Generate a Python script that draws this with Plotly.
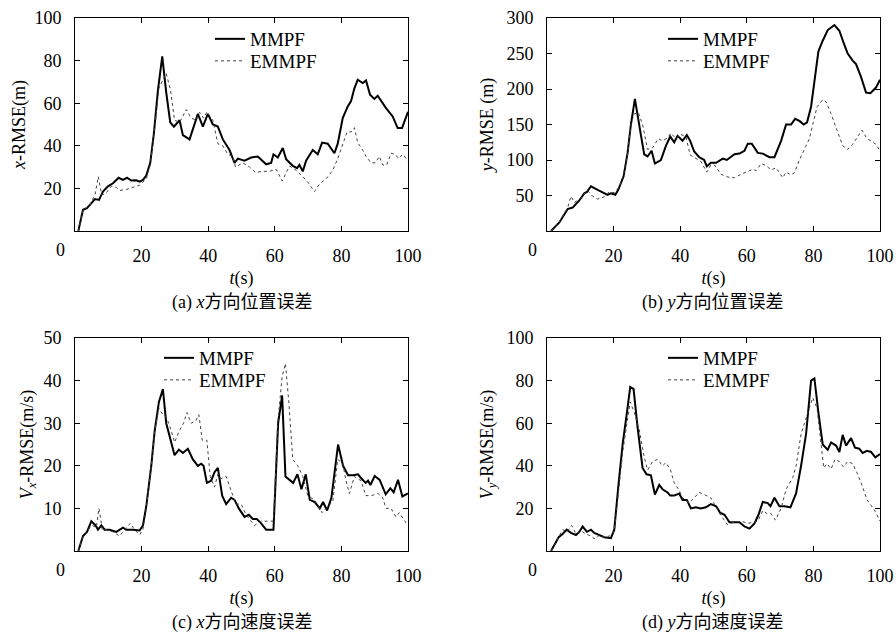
import plotly.graph_objects as go

# ---------------- data ----------------
# (a) x-RMSE (m)
ta_m = [1, 2.4, 3.6, 4.9, 6, 7.2, 8.4, 9.9, 11.4, 13.1, 14.4, 15.6, 16.9, 18.4, 19.4, 20.4, 21.4, 22.6, 23.7, 24.9,
        26.2, 27.4, 28.6, 29.7, 31.4, 32.4, 34.4, 36.9, 38.4, 39.9, 41.4, 42.9, 44.4, 46.4, 47.9, 48.9, 50.9, 52.9,
        54.9, 57.4, 58.9, 59.6, 60.9, 62.4, 63.4, 65.4, 66.7, 67.4, 68.4, 69.4, 71.4, 72.9, 74.2, 75.9, 77.9, 78.9,
        80.4, 81.9, 82.9, 83.9, 84.9, 86.4, 87.4, 88.6, 89.9, 90.9, 91.9, 93.4, 95.4, 96.9, 98.2, 100]
ya_m = [0, 10, 10.7, 13, 15, 14.6, 18.5, 21, 22.4, 25, 24, 25, 23.7, 23.8, 23.2, 24, 26, 32, 46, 66,
        82, 65, 51, 49, 52, 45, 43, 55, 49, 55, 50, 49, 43, 38, 32, 34, 33, 34.5,
        35, 31.3, 32, 36, 34.5, 39, 33.7, 30.6, 29.5, 31, 28, 33, 38, 36, 41.5, 41, 36.5, 41,
        53, 58.5, 61, 67, 71, 69.5, 70.7, 64, 62, 63.5, 61, 57.7, 53.8, 48.3, 48.3, 56]
ta_e = [1, 2.4, 4.4, 6, 7, 8, 9.2, 10.9, 12.4, 13.4, 15.4, 17.4, 19.4, 21.4, 22.6, 23.9, 25.2, 26.4, 27.4, 28.7,
        29.9, 31.4, 33.4, 34.9, 36.4, 37.4, 38.6, 39.6, 41.4, 42.9, 44.4, 45.9, 47.4, 48.2, 50.4, 52.4, 54.2, 56.4,
        58.4, 60.4, 62.2, 64.4, 66.4, 68.4, 69.9, 71.9, 73.4, 75.4, 77.4, 78.9, 80.4, 81.7, 82.9, 83.9, 84.9, 86.4,
        87.4, 88.9, 90.2, 91.4, 92.4, 93.6, 94.9, 96.2, 97.2, 98.4, 100]
ya_e = [0, 10, 12, 17, 25.5, 17, 17.5, 21, 20.5, 19, 19.5, 20.5, 21.5, 24.5, 31, 48, 67, 71, 74, 66,
        52, 51, 57, 53, 52, 55.8, 53, 55.8, 52, 41, 40, 36, 35, 30, 32, 30, 27.5, 28,
        28, 29, 23.5, 30.5, 28.5, 25.5, 23, 18.5, 22, 24.5, 28.5, 34, 41, 46.5, 46.5, 48.5, 41.5, 38,
        35, 32, 32, 35, 31, 31, 36.5, 36, 34, 36, 33]

# (b) y-RMSE (m)
tb_m = [1.2, 3.7, 6.2, 7.7, 9.7, 11.2, 12, 13.2, 15.2, 17.2, 18.2, 19.2, 20.5, 21.4, 22.2, 23, 24.2, 25.2, 26.4,
        27.4, 28.2, 29.2, 30.2, 31.4, 32.4, 34.2, 35.7, 37, 38.2, 39.2, 40.7, 42, 43, 44.2, 45.7, 47.2, 48, 49.2,
        50.8, 52.8, 54, 56.3, 57.8, 59.3, 60.3, 61.5, 63.3, 64.8, 66.8, 68.3, 70.3, 71.8, 73.3, 74.5, 75.8, 77.1,
        78.1, 79.3, 80.3, 81.5, 82.8, 84.3, 86.3, 87.8, 89.3, 90.3, 91.8, 92.8, 94.3, 95.8, 97.1, 98.8, 100]
yb_m = [0, 12, 31, 33, 43, 53, 55, 63, 58, 53, 51, 53, 51, 58, 68, 77, 110, 150, 186,
        155, 135, 108, 105, 113, 95, 100, 120, 133, 125, 134, 127, 135, 127, 112, 104, 100, 91, 96,
        96, 102, 100, 108, 109, 113, 123, 123, 110, 109, 104, 104, 127, 150, 150, 158, 155, 150,
        153, 175, 210, 253, 268, 283, 290, 282, 262, 250, 240, 235, 217, 195, 194, 202, 213]
tb_e = [1.2, 3.7, 6.2, 7.2, 8.2, 10.2, 12.2, 13.7, 15.2, 17.2, 18.7, 20.2, 21.7, 23, 24.2, 25.2, 26.2, 27.4, 28.7,
        30.2, 31.7, 33.4, 34.7, 36.2, 37.2, 38.7, 40.2, 41.7, 43, 44.7, 46.2, 48, 49.2, 50.3, 52.2, 54.3, 56.3,
        58.3, 60.3, 61.8, 62.8, 64.3, 65.8, 67.3, 68.8, 70.8, 71.8, 73.3, 74.3, 75.8, 77.3, 78.8, 79.8, 81.1, 82.8,
        83.8, 85.3, 86.8, 88.8, 90.3, 91.8, 93.3, 94.6, 96.1, 97.3, 98.8, 100]
yb_e = [0, 13, 33, 49, 40, 47, 57, 49, 45, 48, 55, 54, 62, 80, 110, 150, 165, 167, 150,
        115, 117, 130, 127, 131, 138, 130, 136, 133, 107, 102, 98, 83, 93, 93, 80, 76, 75,
        80, 84, 87, 85, 95, 92, 86, 89, 75, 83, 79, 82, 100, 115, 130, 150, 175, 185,
        182, 165, 145, 120, 115, 122, 133, 142, 130, 127, 122, 113]

# (c) Vx-RMSE (m/s)
tc_m = [1, 2.4, 3.6, 4.9, 6.2, 6.9, 7.9, 8.9, 10.4, 12.4, 14.4, 15.4, 17.4, 19.4, 20.4, 21.4, 22.9, 23.9, 25.2,
        26.4, 27.4, 28.4, 29.9, 31.2, 32.4, 33.9, 35.4, 36.9, 37.9, 38.6, 39.6, 40.9, 41.9, 42.9, 44.2, 45.4,
        46.9, 47.9, 49.2, 50.9, 52.2, 53.4, 54.6, 55.9, 57.4, 59.6, 61, 62.2, 63.2, 65.5, 66.8, 68, 69.3, 70.5,
        72, 73.5, 74.5, 75.7, 77, 79, 80.5, 82, 83.5, 85, 86, 87.3, 88, 88.7, 90, 91.5, 93.3, 94.7, 95.7, 97,
        98.3, 100]
yc_m = [0, 3.5, 4.5, 7, 6, 5, 6, 5, 5, 4.5, 5.5, 5, 5, 4.8, 6, 10.5, 20, 28, 35,
        38, 30, 27, 22.5, 23.8, 23, 24, 21.5, 20, 20.5, 20, 16, 16.5, 18.5, 19.5, 13, 11,
        12.5, 12, 10, 8, 8.5, 7.5, 7.5, 6.5, 5, 5, 30, 36.5, 17.5, 16, 18, 14.5, 18, 12,
        11.5, 10, 11.5, 9.5, 12.5, 25, 20, 17.8, 17.8, 18, 17, 16, 16.5, 15.5, 17.6, 16.7, 13.3, 14.7, 13.8, 16.7,
        12.8, 13.5]
tc_e = [1, 2.4, 3.9, 5.2, 6.4, 7.2, 8.2, 9.4, 11.4, 13.4, 14.9, 16.6, 17.9, 19.4, 20.4, 21.4, 22.9, 23.9, 25.2,
        26.4, 27.4, 28.6, 29.9, 31.2, 32.6, 33.6, 34.9, 36.2, 37.2, 38.2, 39.6, 40.6, 41.9, 42.9, 43.9, 45.4,
        47.4, 48.4, 49.9, 51.4, 53.9, 55.9, 58.4, 59.6, 60.9, 62.2, 63.2, 64.2, 65.4, 66.9, 68.4, 69.9, 71.9,
        74.2, 75.9, 77.4, 78.9, 80.4, 81.4, 82.4, 83.9, 85.9, 87.3, 89, 91, 92.4, 93.4, 94.9, 96.4, 97.4, 98.6, 100]
yc_e = [0, 3.5, 5, 6, 5.5, 10, 5, 5, 4.5, 3.5, 5, 6.5, 5, 3.8, 5, 10, 20, 28, 33.5,
        32, 31.5, 29, 25.5, 28, 30, 32.5, 30, 30.5, 32, 26, 26, 17.5, 15, 18, 17, 17.5,
        13, 11, 11, 8.5, 6, 7, 7, 7, 30, 41, 44, 35, 21.5, 20, 17.5, 13, 12,
        9, 10.5, 11.5, 21.5, 20.5, 16.5, 13.5, 17.5, 16.5, 13, 13, 13.5, 12.5, 10, 10, 8, 9, 7.5, 6]

# (d) Vy-RMSE (m/s)
td_m = [1.2, 2.2, 3.5, 4.7, 5.9, 7.2, 8.7, 9.7, 10.7, 12, 13.2, 14.2, 15.7, 17.2, 19.2, 20.2, 21.4, 22.7, 24, 25,
        26, 27.2, 28.7, 29.9, 31.2, 32.4, 33.7, 34.7, 36.2, 37, 38.2, 39.7, 40.7, 42, 43.2, 44.7, 46.2, 47.7,
        49.2, 50.8, 52, 53.3, 54.8, 56.3, 57.8, 59.3, 60.8, 62.3, 63.5, 64.8, 66.3, 67.1, 68.3, 69.8, 71.3, 73.1,
        74.8, 76.3, 77.8, 79.3, 80.3, 81.5, 82.8, 84.3, 85.3, 86.8, 87.8, 88.8, 89.8, 91.3, 92.5, 93.8, 94.8,
        96.1, 97.3, 98.6, 100]
yd_m = [0, 3, 6.5, 8, 10, 8.5, 7.5, 9, 11.5, 9, 10, 8.5, 7.5, 6.5, 6, 10, 30, 50, 65, 77,
        76, 58, 39, 36, 35.5, 26.5, 31, 29, 27.5, 26, 26, 27, 24, 24, 20, 20.5, 20, 20.5,
        22, 21, 18, 17, 13.5, 13.5, 13.5, 11.5, 10.5, 13, 17, 23, 22.5, 21, 25, 21, 21, 20.5,
        27, 40, 55, 80, 81, 65, 50, 47.5, 51, 49.5, 46.5, 54.5, 49.5, 53, 48.5, 48, 46,
        47, 46.5, 44, 45.5]
td_e = [1.2, 2.7, 4.7, 6, 7.4, 8.7, 10.2, 11.7, 13.2, 14.5, 15.7, 17.2, 18.7, 20.2, 21.4, 22.7, 24, 25, 26.2,
        27.7, 29.2, 30.2, 31.7, 33.2, 34.7, 35.7, 37, 38.2, 39.7, 40.7, 42.7, 44.2, 45.7, 47.2, 49.2, 50.8, 52.3,
        54.1, 56.3, 58.3, 60.3, 62.3, 63.3, 64.8, 66.1, 67.3, 68.6, 70.3, 71.8, 73.8, 74.8, 76.3, 77.8, 78.8,
        79.8, 81.1, 82.4, 83.1, 84.1, 85.3, 86.5, 87.8, 89, 90.3, 91.8, 93.3, 94.8, 96.1, 97.3, 98.6, 100]
yd_e = [0, 4, 10, 9, 12, 8, 9.5, 8, 7, 5.5, 7.5, 6.5, 7, 9, 28, 46, 60, 70, 65,
        57, 44, 38, 42, 43, 40, 41.5, 38.5, 32, 28.5, 25, 22.5, 25, 27.5, 26.5, 25, 20.5, 16.5,
        12.5, 13.5, 14, 13, 13.5, 14, 19, 17.5, 17.5, 14.5, 20, 29, 34.5, 40, 55, 62, 67,
        72, 67, 48, 39, 41, 38.5, 43, 42, 39.5, 42, 41, 36, 30, 24, 21.5, 18.5, 14]

series_names = ["MMPF", "EMMPF"]
y_titles = ["<i>x</i>-RMSE(m)", "<i>y</i>-RMSE (m)", "<i>V<sub>x</sub></i>-RMSE(m/s)", "<i>V<sub>y</sub></i>-RMSE(m/s)"]
captions = ["(a) <i>x</i>方向位置误差", "(b) <i>y</i>方向位置误差", "(c) <i>x</i>方向速度误差", "(d) <i>y</i>方向速度误差"]
y_ranges = [[0, 100], [0, 300], [0, 50], [0, 100]]
y_ticks = [[20, 40, 60, 80, 100], [50, 100, 150, 200, 250, 300], [10, 20, 30, 40, 50], [20, 40, 60, 80, 100]]
x_ticks = [20, 40, 60, 80, 100]

panels = [(ta_m, ya_m, ta_e, ya_e), (tb_m, yb_m, tb_e, yb_e), (tc_m, yc_m, tc_e, yc_e), (td_m, yd_m, td_e, yd_e)]

# ---------------- layout geometry ----------------
W, H = 896, 637
FONT = "Liberation Serif, 'Noto Sans CJK SC', serif"
FS = 18
xdoms = [[75 / W, 408 / W], [547 / W, 880 / W], [75 / W, 408 / W], [547 / W, 880 / W]]
ydoms = [[1 - 231 / H, 1 - 18 / H], [1 - 231 / H, 1 - 18 / H], [1 - 551 / H, 1 - 338 / H], [1 - 551 / H, 1 - 338 / H]]
legend_x = [210, 663, 159, 663]
legend_y = [(39, 61), (39, 61), (358, 380), (358, 380)]
ytitle_standoff = [4, 8, 5, 8]

fig = go.Figure()
layout = dict(
    width=W, height=H, margin=dict(l=0, r=0, t=0, b=0, autoexpand=False),
    paper_bgcolor="white", plot_bgcolor="white", showlegend=True,
    font=dict(family=FONT, size=FS, color="black"),
    annotations=[],
)

styles = [dict(color="black", width=2), dict(color="#444444", width=1, dash="dot")]
leg_n = 0
for i, (tm, ym, te, ye) in enumerate(panels):
    k = "" if i == 0 else str(i + 1)
    for j, (tt, yy) in enumerate([(tm, ym), (te, ye)]):
        leg_n += 1
        leg = "legend" if leg_n == 1 else "legend" + str(leg_n)
        fig.add_trace(go.Scatter(x=tt, y=yy, mode="lines", name=series_names[j], line=styles[j],
                                 xaxis="x" + k, yaxis="y" + k, legend=leg, showlegend=True))
        layout[leg] = dict(x=legend_x[i] / W, y=1 - legend_y[i][j] / H, xanchor="left", yanchor="middle",
                           bgcolor="rgba(0,0,0,0)", borderwidth=0, itemwidth=30, visible=True,
                           font=dict(family=FONT, size=FS + 1, color="black"))
    axstyle = dict(showline=True, linecolor="black", linewidth=1, mirror="ticks", ticks="inside",
                   ticklen=5, tickwidth=1, tickcolor="black", showgrid=False, zeroline=False,
                   automargin=False, tickfont=dict(family=FONT, size=FS, color="black"))
    layout["xaxis" + k] = dict(domain=xdoms[i], range=[0, 100], tickvals=x_ticks, anchor="y" + k,
                               ticklabelstandoff=8,
                               title=dict(text="<i>t</i>(s)", standoff=6, font=dict(family=FONT, size=FS)),
                               **axstyle)
    layout["yaxis" + k] = dict(domain=ydoms[i], range=y_ranges[i], tickvals=y_ticks[i], anchor="x" + k,
                               ticklabelstandoff=9,
                               title=dict(text=y_titles[i], standoff=ytitle_standoff[i],
                                          font=dict(family=FONT, size=FS)),
                               **axstyle)
    # "0" corner label
    layout["annotations"].append(dict(x=0, y=0, xref="x" + k, yref="y" + k, text="0", showarrow=False,
                                      xshift=-15, yshift=-19, font=dict(family=FONT, size=FS)))
    # caption
    cx = (xdoms[i][0] + xdoms[i][1]) / 2
    cy = ydoms[i][0] - 71 / H
    layout["annotations"].append(dict(x=cx, y=cy, xref="paper", yref="paper", text=captions[i],
                                      showarrow=False, xanchor="center", yanchor="middle",
                                      font=dict(family=FONT, size=FS)))

fig.update_layout(**layout)
fig.write_html("out.html", config={"displayModeBar": False},
               post_script="document.body.style.margin='0px';document.body.style.overflow='hidden';")
